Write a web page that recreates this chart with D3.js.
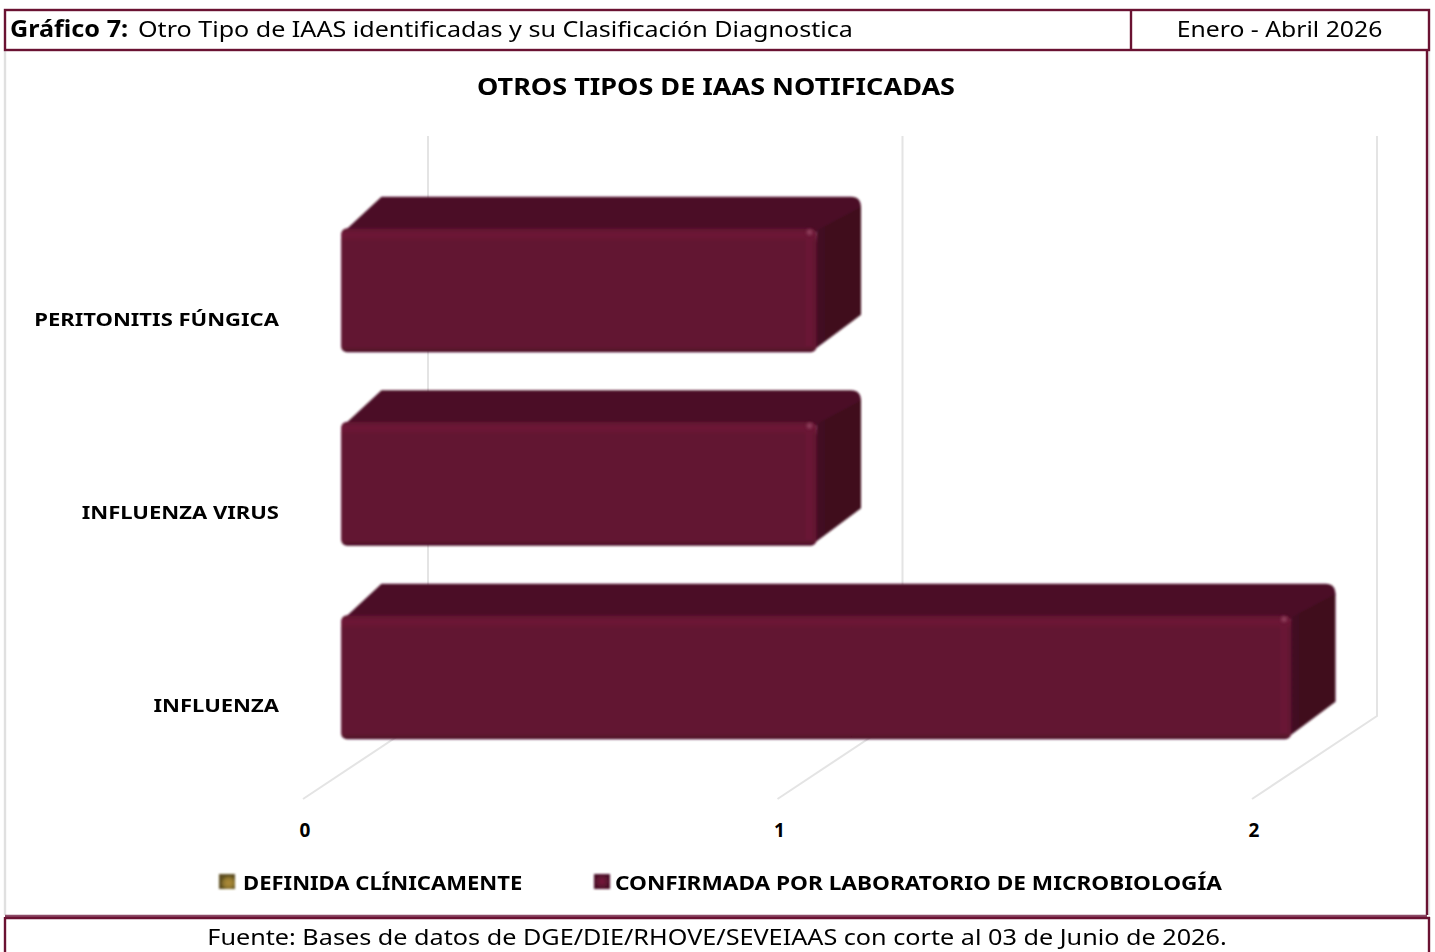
<!DOCTYPE html>
<html>
<head>
<meta charset="utf-8">
<script src="https://cdn.jsdelivr.net/npm/d3@7"></script>
<style>
html, body { margin: 0; padding: 0; background: #fff; }
svg { display: block; }
text { font-family: "Noto Sans", sans-serif; fill: #000; }
</style>
</head>
<body>
<svg id="chart" width="1435" height="952"></svg>
<script>
let categories = ["INFLUENZA", "INFLUENZA VIRUS", "PERITONITIS FÚNGICA"]
let clinica = [0, 0, 0]
let laboratorio = [2, 1, 1]
let xTicks = [0, 1, 2]
let legendLabels = ["DEFINIDA CLÍNICAMENTE", "CONFIRMADA POR LABORATORIO DE MICROBIOLOGÍA"]
let legendColors = ["url(#legend-gold)", "url(#legend-wine)"]

let wine = "#6a1232"
let svg = d3.select("#chart")
let defs = svg.append("defs")

// soft edge, the original is an upscaled bitmap
defs.append("filter").attr("id", "soft")
	.append("feGaussianBlur").attr("stdDeviation", 0.9)
defs.append("filter").attr("id", "softer").attr("x", -0.5).attr("y", -0.5).attr("width", 2).attr("height", 2)
	.append("feGaussianBlur").attr("stdDeviation", 1.6)

let front = defs.append("linearGradient").attr("id", "front-v").attr("x1", 0).attr("x2", 0).attr("y1", 0).attr("y2", 1)
front.append("stop").attr("offset", 0).attr("stop-color", "#5e122f")
front.append("stop").attr("offset", 0.05).attr("stop-color", "#6e1637")
front.append("stop").attr("offset", 0.11).attr("stop-color", "#621330")
front.append("stop").attr("offset", 0.96).attr("stop-color", "#621330")
front.append("stop").attr("offset", 1).attr("stop-color", "#471024")

let side = defs.append("linearGradient").attr("id", "side-h").attr("x1", 0).attr("x2", 1).attr("y1", 0).attr("y2", 0)
side.append("stop").attr("offset", 0).attr("stop-color", "#48102a")
side.append("stop").attr("offset", 0.3).attr("stop-color", "#400b1f")
side.append("stop").attr("offset", 1).attr("stop-color", "#400b1f")

let gold = defs.append("radialGradient").attr("id", "legend-gold").attr("cx", 0.6).attr("cy", 0.6)
gold.append("stop").attr("offset", 0).attr("stop-color", "#b08c38")
gold.append("stop").attr("offset", 0.6).attr("stop-color", "#947a30")
gold.append("stop").attr("offset", 1).attr("stop-color", "#5e4f20")
let wineLeg = defs.append("radialGradient").attr("id", "legend-wine")
wineLeg.append("stop").attr("offset", 0).attr("stop-color", "#7a1a3e")
wineLeg.append("stop").attr("offset", 1).attr("stop-color", "#4a0f26")

// floor line runs from the front plane to the back wall
let x = d3.scaleLinear().domain([0, 2]).range([303, 1252])
let y = d3.scaleBand().domain(categories).range([767, 188.4]).paddingInner(0.36).paddingOuter(0.175)
let depth = { dx: 125, dy: 83 }
let barNear = 0.305, barFar = 0.66

// walls and floor
svg.append("g").selectAll("path").data(xTicks).join("path")
	.attr("d", d => d3.line()([[x(d), 799], [x(d) + depth.dx, 716], [x(d) + depth.dx, 136]]))
	.attr("fill", "none")
	.attr("stroke", "#e4e4e4")
	.attr("stroke-width", 2)

svg.append("g").selectAll("text").data(xTicks).join("text")
	.attr("x", d => x(d) + 2)
	.attr("y", 837)
	.attr("text-anchor", "middle")
	.attr("font-size", 19)
	.attr("font-weight", 700)
	.text(d => d)

let barData = categories.map((c, i) => ({ cat: c, value: laboratorio[i] }))

let bars = svg.append("g").attr("filter", "url(#soft)").selectAll("g").data(barData).join("g")

let nearX = barNear * depth.dx
let dX = (barFar - barNear) * depth.dx, dY = (barFar - barNear) * depth.dy + 2
let x0 = d => x(0) + nearX
let x1 = d => x(d.value) + nearX + 1
let yTop = d => y(d.cat) + 6
let yBot = d => yTop(d) + 124

// top face
bars.append("path").attr("fill", "#4c0d26").attr("d", d => {
	let p = d3.path()
	p.moveTo(x0(d), yTop(d) + 6)
	p.lineTo(x0(d) + dX - 4, yTop(d) - dY)
	p.lineTo(x1(d) + dX - 10, yTop(d) - dY)
	p.quadraticCurveTo(x1(d) + dX, yTop(d) - dY, x1(d) + dX, yTop(d) - dY + 11)
	p.lineTo(x1(d), yTop(d) + 4)
	p.closePath()
	return p.toString()
})
// right side
bars.append("path").attr("fill", "url(#side-h)").attr("d", d => {
	let p = d3.path()
	p.moveTo(x1(d), yTop(d) + 2)
	p.lineTo(x1(d) + dX, yTop(d) - dY + 10)
	p.lineTo(x1(d) + dX, yBot(d) - dY - 6)
	p.lineTo(x1(d) - 6, yBot(d))
	p.closePath()
	return p.toString()
})
// front face
bars.append("rect")
	.attr("x", d => x0(d))
	.attr("y", d => yTop(d))
	.attr("width", d => x1(d) - x0(d))
	.attr("height", 124)
	.attr("rx", 6)
	.attr("fill", "url(#front-v)")
// lighter band along the front right edge
bars.append("rect")
	.attr("x", d => x1(d) - 11)
	.attr("y", d => yTop(d) + 6)
	.attr("width", 7)
	.attr("height", 112)
	.attr("fill", "#6c1637")
	.attr("opacity", 0.8)
// corner glint
svg.append("g").selectAll("circle").data(barData).join("circle")
	.attr("cx", d => x1(d) - 7)
	.attr("cy", d => yTop(d) + 4)
	.attr("r", 3)
	.attr("fill", "#8c3a58")
	.attr("filter", "url(#softer)")

// stretches a text to the wider look of the original
let stretch = (sel, r) => sel.each(function() {
	d3.select(this)
		.attr("textLength", this.getComputedTextLength() * r)
		.attr("lengthAdjust", "spacingAndGlyphs")
})

svg.append("g").selectAll("text").data(categories).join("text")
	.attr("x", 279)
	.attr("y", (d, i) => y(d) + 6 + 96.5 + i * 0.5)
	.attr("text-anchor", "end")
	.attr("font-size", 18.5)
	.attr("font-weight", 700)
	.text(d => d)
	.call(stretch, 1.19)

// title and frames
svg.append("text").attr("x", 716).attr("y", 95).attr("text-anchor", "middle")
	.attr("font-size", 23).attr("font-weight", 700).text("OTROS TIPOS DE IAAS NOTIFICADAS")
	.call(stretch, 1.175)

let frame = svg.append("g").attr("fill", "none").attr("stroke", wine).attr("stroke-width", 2.4)
frame.append("line").attr("x1", 5).attr("x2", 5).attr("y1", 51).attr("y2", 915).attr("stroke", "#e0e0e0")
frame.append("line").attr("x1", 1429).attr("x2", 1429).attr("y1", 51).attr("y2", 915).attr("stroke", "#e6e6e6")
frame.append("rect").attr("x", 5).attr("y", 10).attr("width", 1424).attr("height", 40)
frame.append("line").attr("x1", 1131).attr("x2", 1131).attr("y1", 10).attr("y2", 50)
frame.append("line").attr("x1", 1427).attr("x2", 1427).attr("y1", 50).attr("y2", 915)
frame.append("line").attr("x1", 5).attr("x2", 1427).attr("y1", 916).attr("y2", 916).attr("stroke", "#8c4a66")
frame.append("line").attr("x1", 5).attr("x2", 1430).attr("y1", 918).attr("y2", 918)
frame.append("line").attr("x1", 5).attr("x2", 5).attr("y1", 917).attr("y2", 952)
frame.append("line").attr("x1", 1429).attr("x2", 1429).attr("y1", 917).attr("y2", 952)

svg.append("text").attr("x", 10).attr("y", 37).attr("font-size", 22.5).attr("font-weight", 700)
	.text("Gráfico 7:").call(stretch, 1.12)
svg.append("text").attr("x", 138).attr("y", 37).attr("font-size", 22.5)
	.text("Otro Tipo de IAAS identificadas y su Clasificación Diagnostica").call(stretch, 1.115)
svg.append("text").attr("x", 1279.5).attr("y", 37).attr("text-anchor", "middle").attr("font-size", 22.5)
	.text("Enero - Abril 2026").call(stretch, 1.10)

// legend
let legendX = [219, 594], legendTextX = [243, 615], legendStretch = [1.13, 1.16]
let legend = svg.append("g").selectAll("g").data(legendLabels).join("g")
legend.append("rect")
	.attr("x", (d, i) => legendX[i]).attr("y", 874)
	.attr("width", 16).attr("height", 15)
	.attr("fill", (d, i) => legendColors[i])
	.attr("filter", "url(#soft)")
legend.append("text")
	.attr("x", (d, i) => legendTextX[i]).attr("y", 890)
	.attr("font-size", 19.5).attr("font-weight", 700)
	.text(d => d)
	.each(function(d, i) { d3.select(this).call(stretch, legendStretch[i]) })

svg.append("text").attr("x", 717).attr("y", 945).attr("text-anchor", "middle").attr("font-size", 22.5)
	.text("Fuente: Bases de datos de DGE/DIE/RHOVE/SEVEIAAS con corte al 03 de Junio de 2026.")
	.call(stretch, 1.12)
</script>
</body>
</html>
